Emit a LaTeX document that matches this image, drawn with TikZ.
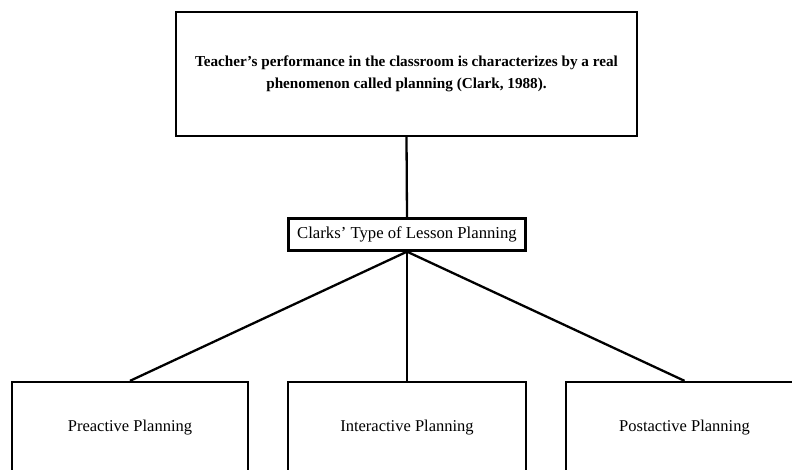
\documentclass[tikz,border=0pt]{standalone}
\usepackage{fontspec}
\setmainfont{Liberation Serif}
\begin{document}
\begin{tikzpicture}[x=1pt,y=-1pt,
  box/.style={draw=black, line width=2.3pt, rectangle, inner sep=0pt, align=center},
  link/.style={draw=black, line width=2.3pt},
  leaf/.style={box, minimum height=92pt, font=\fontsize{16.5}{18}\selectfont}]
\useasboundingbox (0,0) rectangle (792,470);
\clip (0,0) rectangle (792,470);
\fill[white] (0,0) rectangle (792,470);
\node[box, minimum width=461pt, minimum height=124pt, font=\bfseries\fontsize{15.2}{22}\selectfont] (top) at (406.5,74)
  {Teacher’s performance in the classroom is characterizes by a real\\phenomenon called planning (Clark, 1988).};
\node[box, minimum width=237pt, minimum height=32pt, font=\fontsize{16.7}{18}\selectfont] (mid) at (407,234.5) {Clarks’ Type of Lesson Planning};
\node[leaf, minimum width=236pt] (pre) at (130,428) {Preactive Planning};
\node[leaf, minimum width=238pt] (inter) at (407,428) {Interactive Planning};
\node[leaf, minimum width=237pt] (post) at (684.5,428) {Postactive Planning};
\draw[link] (top.south) -- (mid.north);
\draw[link] (mid.south) -- (pre.north);
\draw[link] (mid.south) -- (inter.north);
\draw[link] (mid.south) -- (post.north);
\end{tikzpicture}
\end{document}
